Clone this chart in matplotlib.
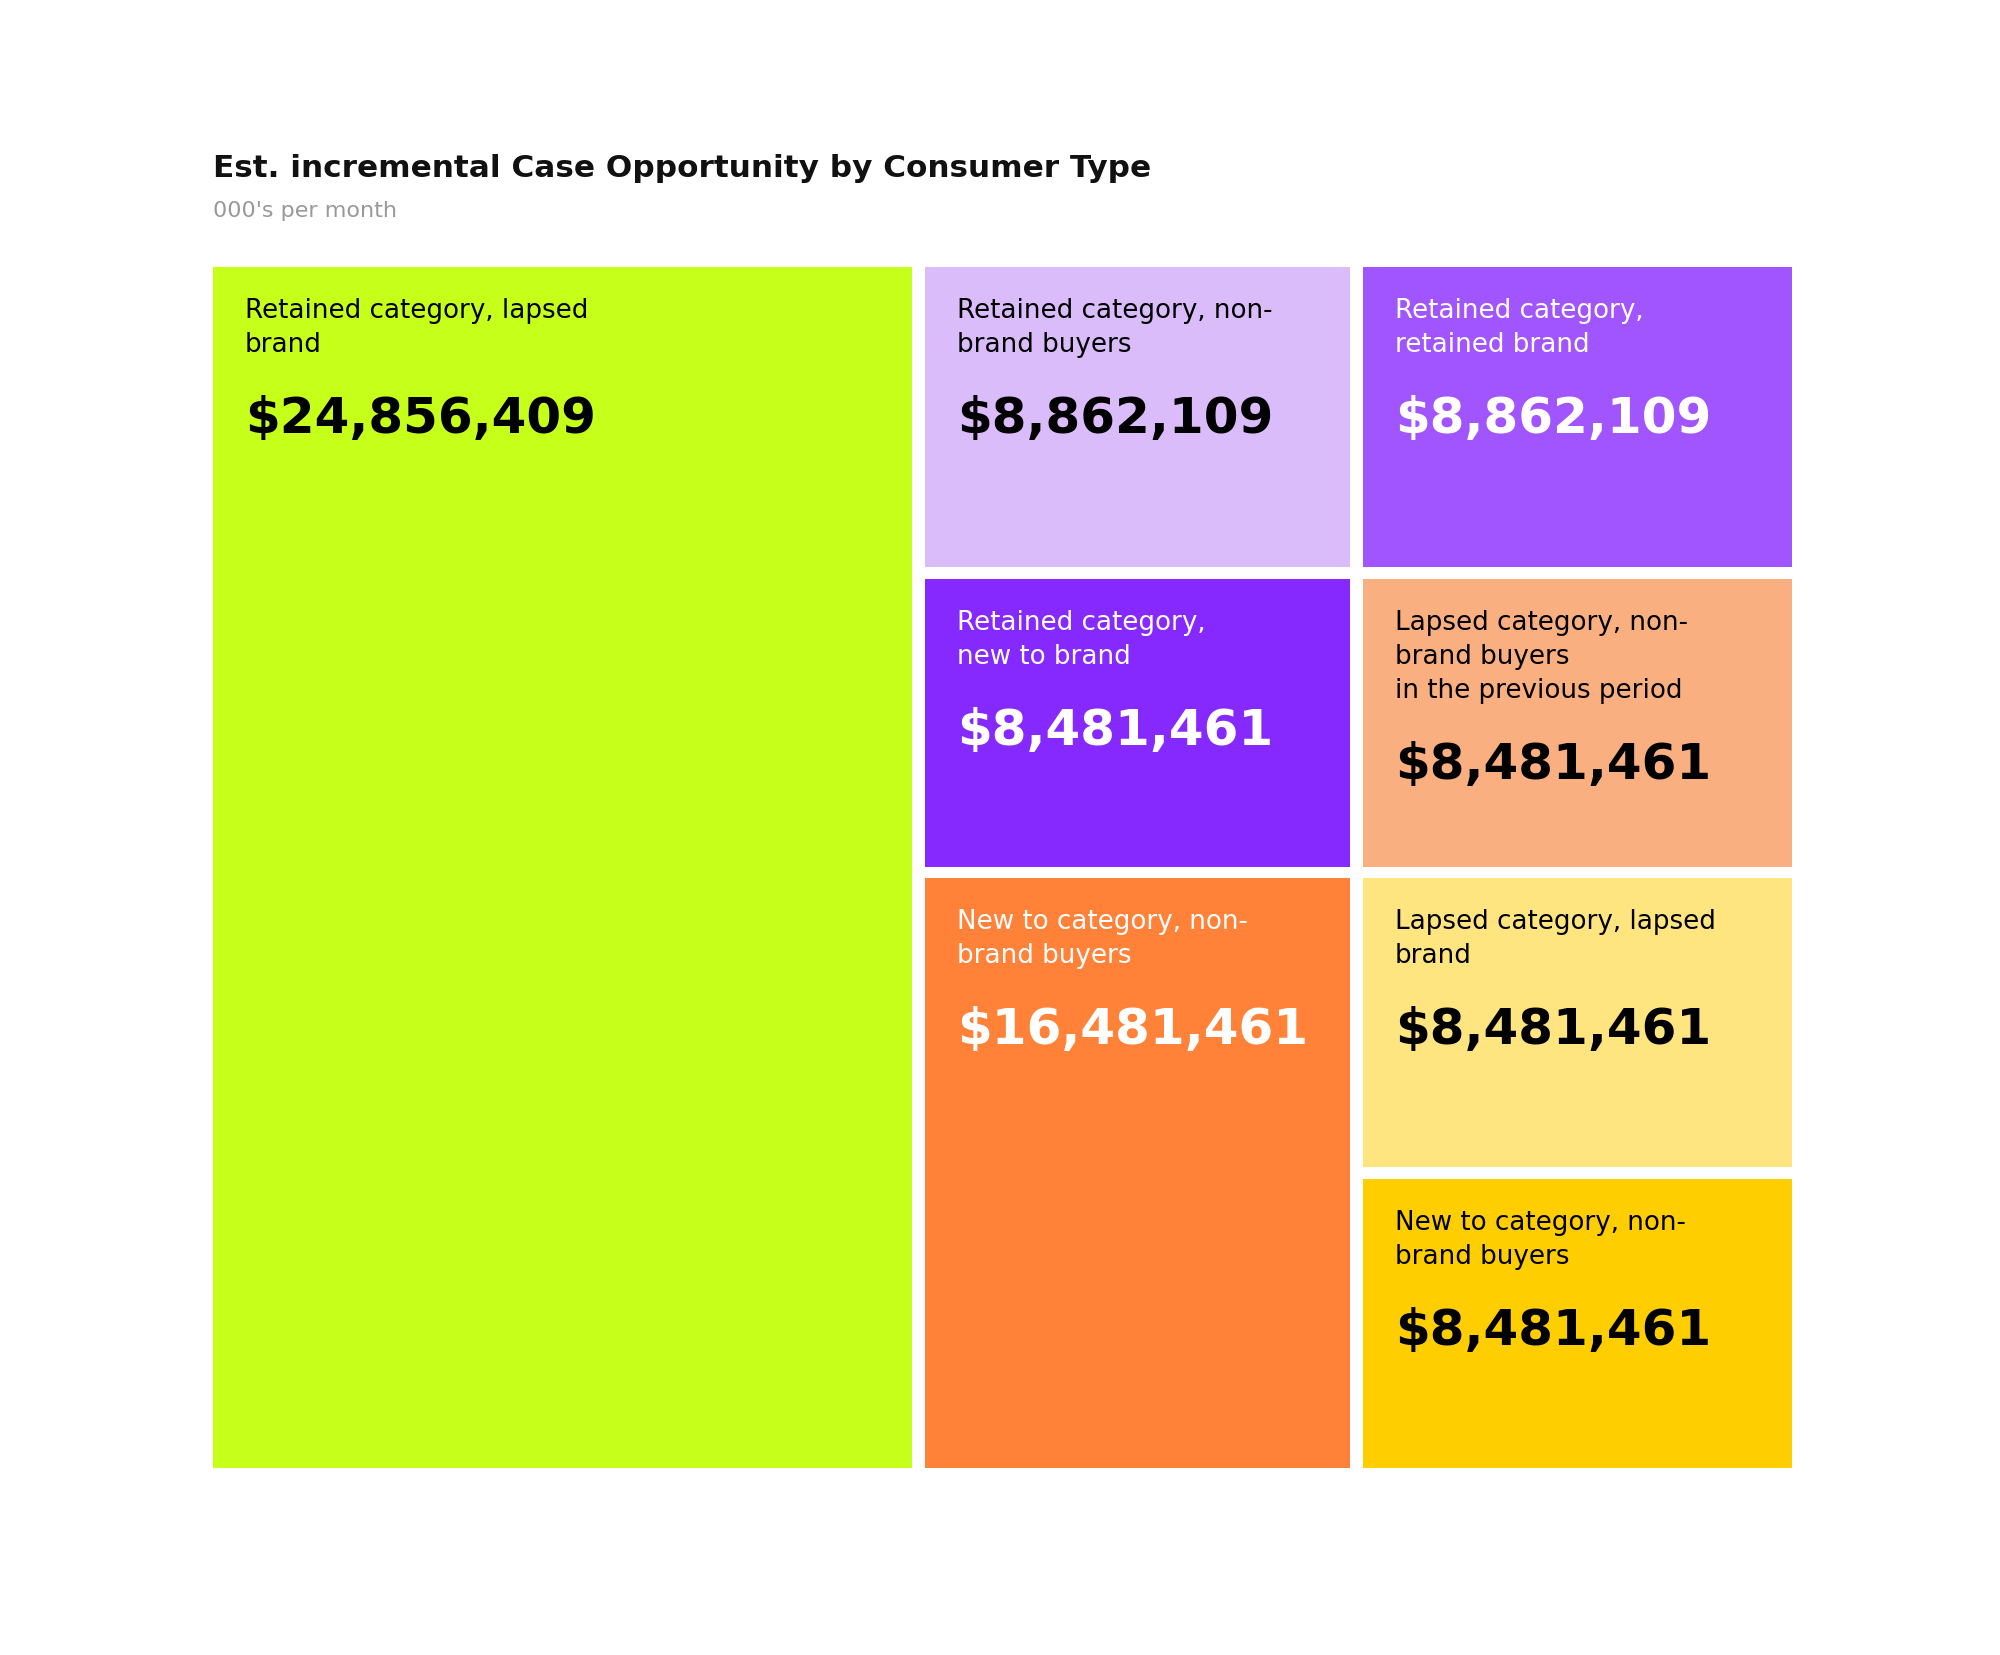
import matplotlib.pyplot as plt
from matplotlib.gridspec import GridSpec

plt.rcParams['font.family'] = ['DejaVu Sans']

title = 'Est. incremental Case Opportunity by Consumer Type'
subtitle = "000's per month"

labels = [
    'Retained category, lapsed\nbrand',
    'Retained category, non-\nbrand buyers',
    'Retained category,\nretained brand',
    'Retained category,\nnew to brand',
    'Lapsed category, non-\nbrand buyers\nin the previous period',
    'New to category, non-\nbrand buyers',
    'Lapsed category, lapsed\nbrand',
    'New to category, non-\nbrand buyers',
]
values = [24856409, 8862109, 8862109, 8481461, 8481461, 16481461, 8481461, 8481461]
colors = ['#C6FF1A', '#DABCFB', '#A155FF', '#8629FF', '#F9AF80', '#FF8238', '#FFE580', '#FFCE00']
text_colors = ['black', 'black', 'white', 'white', 'black', 'white', 'black', 'black']

# tile layout: (column, first row, last row + 1)
tiles = [(0, 0, 4), (1, 0, 1), (2, 0, 1), (1, 1, 2), (2, 1, 2), (1, 2, 4), (2, 2, 3), (2, 3, 4)]

W, H = 2000, 1656
fig = plt.figure(figsize=(W / 100, H / 100), dpi=100)
fig.patch.set_facecolor('white')

gs = GridSpec(4, 3, figure=fig,
              left=213 / W, right=1792 / W, top=1 - 268 / H, bottom=1 - 1469 / H,
              width_ratios=[699, 424, 429], height_ratios=[300, 288, 289, 289],
              wspace=0.026, hspace=0.040)

px = 0.72  # pixels -> points at 100 dpi

for (col, r0, r1), lab, val, c, tc in zip(tiles, labels, values, colors, text_colors):
    ax = fig.add_subplot(gs[r0:r1, col])
    ax.set_facecolor(c)
    ax.set_xticks([])
    ax.set_yticks([])
    for s in ax.spines.values():
        s.set_visible(False)
    lines = lab.split('\n')
    for i, line in enumerate(lines):
        ax.annotate(line, xy=(0, 1), xycoords='axes fraction',
                    xytext=(32 * px, -(50 + 34 * i) * px), textcoords='offset points',
                    ha='left', va='baseline', fontsize=18.8, color=tc)
    ax.annotate(f'${val:,}', xy=(0, 1), xycoords='axes fraction',
                xytext=(32 * px, -(50 + 34 * (len(lines) - 1) + 81) * px), textcoords='offset points',
                ha='left', va='baseline', fontsize=36, fontweight='bold', color=tc)

fig.text(213 / W, 1 - 177 / H, title, ha='left', va='baseline',
         fontsize=22.4, fontweight='bold', color='#111111')
fig.text(213 / W, 1 - 217 / H, subtitle, ha='left', va='baseline',
         fontsize=16, color='#999999')

fig.savefig('out.png', dpi=100, facecolor='white')
